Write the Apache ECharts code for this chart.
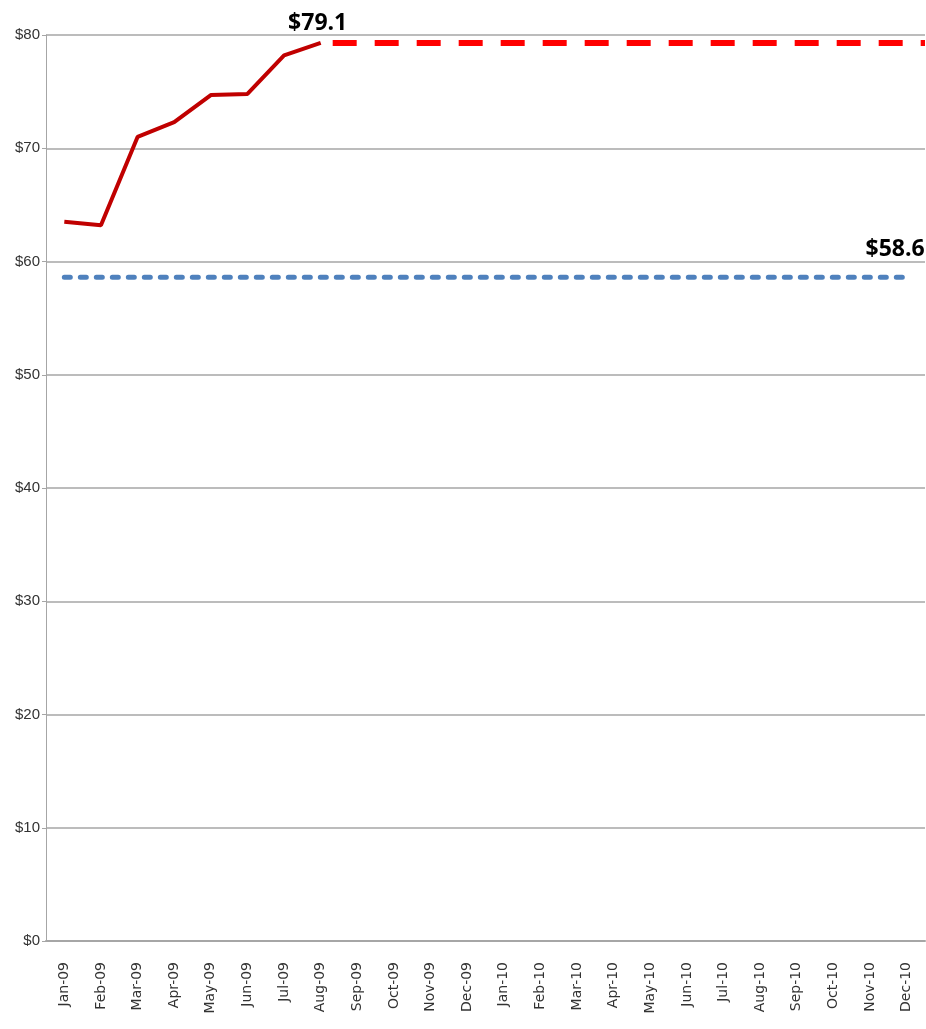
<!DOCTYPE html>
<html><head><meta charset="utf-8">
<script src="https://cdn.jsdelivr.net/npm/echarts@6/dist/echarts.min.js"></script>
<style>html,body{margin:0;padding:0;background:#fff}#c{width:926px;height:1029px}</style>
</head><body><div id="c"></div>
<script>
const categories = ['Jan-09','Feb-09','Mar-09','Apr-09','May-09','Jun-09','Jul-09','Aug-09','Sep-09','Oct-09','Nov-09','Dec-09','Jan-10','Feb-10','Mar-10','Apr-10','May-10','Jun-10','Jul-10','Aug-10','Sep-10','Oct-10','Nov-10','Dec-10'];
const actualValues = [63.5, 63.2, 71.0, 72.3, 74.7, 74.8, 78.2, 79.3];
const projectedLevel = 79.3;
const projectedLabel = '$79.1';
const baselineLevel = 58.6;
const baselineLabel = '$58.6';
const yTicks = [0, 10, 20, 30, 40, 50, 60, 70, 80];

const labelFont = {fontFamily: 'Open Sans', fontWeight: 'bold', fontSize: 23, color: '#000'};
const chart = echarts.init(document.getElementById('c'));
const lastActual = actualValues.length - 1;
const lastCat = categories.length - 1;
chart.setOption({
  animation: false,
  grid: {left: 46, right: 1, top: 35, bottom: 88},
  xAxis: [{
    type: 'category', data: categories, boundaryGap: true,
    axisLine: {lineStyle: {color: '#a6a6a6', width: 2}},
    axisTick: {show: false},
    axisLabel: {rotate: 90, margin: 21, interval: 0, color: '#333', fontFamily: 'DejaVu Sans', fontSize: 14}
  }, {
    type: 'value', min: 0, max: categories.length, show: false
  }],
  yAxis: {
    type: 'value', min: yTicks[0], max: yTicks[yTicks.length-1], interval: 10,
    axisLine: {show: true, lineStyle: {color: '#a6a6a6', width: 1}},
    axisTick: {show: true, length: 4, lineStyle: {color: '#a6a6a6'}},
    splitLine: {lineStyle: {color: '#a6a6a6', width: 1.5}},
    axisLabel: {formatter: v => '$' + v, color: '#333', fontFamily: 'Liberation Sans Narrow, Liberation Sans', fontSize: 15, margin: 6}
  },
  series: [{
    type: 'line', xAxisIndex: 0,
    data: categories.map(() => baselineLevel),
    symbol: 'none',
    lineStyle: {color: '#4f81bd', width: 5, type: [6, 10], cap: 'round'},
    markPoint: {
      symbol: 'rect', symbolSize: 1, itemStyle: {color: 'rgba(0,0,0,0)'},
      data: [{coord: [categories[lastCat], baselineLevel],
        label: Object.assign({show: true, formatter: baselineLabel, position: 'top', align: 'right', distance: 16, offset: [18, 0]}, labelFont)}]
    }
  }, {
    type: 'line', xAxisIndex: 1,
    data: [[lastActual + 0.5, projectedLevel], [categories.length, projectedLevel]],
    symbol: 'none',
    lineStyle: {color: '#ff0000', width: 6, type: [24, 18], dashOffset: -12}
  }, {
    type: 'line', xAxisIndex: 0,
    data: actualValues,
    symbol: 'none',
    lineStyle: {color: '#c00000', width: 4},
    markPoint: {
      symbol: 'rect', symbolSize: 1, itemStyle: {color: 'rgba(0,0,0,0)'},
      data: [{coord: [categories[lastActual], actualValues[lastActual]],
        label: Object.assign({show: true, formatter: projectedLabel, position: 'top', distance: 7, offset: [-3, 0]}, labelFont)}]
    }
  }]
});
</script></body></html>
